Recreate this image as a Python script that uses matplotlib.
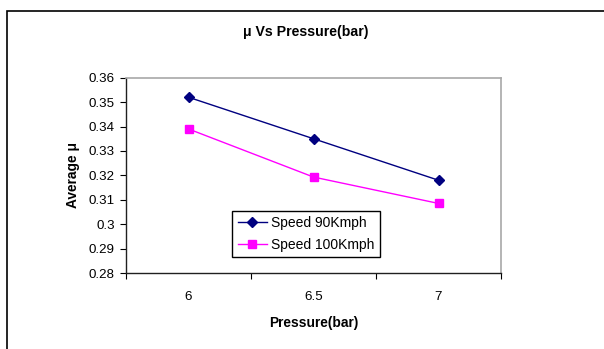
import numpy as np
import matplotlib.pyplot as plt
from matplotlib.patches import Rectangle
from matplotlib.ticker import FuncFormatter

plt.rcParams["font.family"] = ["Liberation Sans", "DejaVu Sans"]

# datos
pressure = ["6", "6.5", "7"]
speed_90 = [0.352, 0.335, 0.318]
speed_100 = [0.339, 0.3193, 0.3085]
y_ticks = [0.28, 0.29, 0.30, 0.31, 0.32, 0.33, 0.34, 0.35, 0.36]

fig = plt.figure(figsize=(6.04, 3.49), dpi=100)
# plot area in pixels: x 126-501, y 77.7-273
ax = fig.add_axes([126 / 604, 1 - 273 / 349, 375 / 604, 195.3 / 349])

x = np.arange(len(pressure))
ax.plot(x, speed_90, color="#000080", lw=1, marker="D", ms=5, label="Speed 90Kmph")
ax.plot(x, speed_100, color="#FF00FF", lw=1, marker="s", ms=5.5, label="Speed 100Kmph")

ax.set_xlim(-0.5, 2.5)
ax.set_ylim(0.28, 0.36)
ax.set_yticks(y_ticks)
ax.yaxis.set_major_formatter(FuncFormatter(lambda v, p: "%g" % round(v, 2)))
ax.tick_params(axis="y", labelsize=9.6, length=4, width=0.8, direction="out", pad=4)

# category axis: ticks between categories, labels at centres
ax.set_xticks([-0.5, 0.5, 1.5, 2.5])
ax.set_xticklabels([])
ax.tick_params(axis="x", which="major", length=4, width=0.8, direction="out")
ax.set_xticks(x, minor=True)
ax.set_xticklabels(pressure, minor=True)
ax.tick_params(axis="x", which="minor", length=0, labelsize=9.6, pad=13)

for s in ["top", "right"]:
    ax.spines[s].set_color("#a8a8a8")
    ax.spines[s].set_linewidth(1.2)
for s in ["left", "bottom"]:
    ax.spines[s].set_color("#202020")
    ax.spines[s].set_linewidth(1)

ax.set_xlabel("Pressure(bar)", fontsize=9.9, fontweight="bold", labelpad=9)
ax.set_ylabel("Average μ", fontsize=9.9, fontweight="bold", labelpad=6)
fig.text(306 / 604, 1 - 32 / 349, "μ Vs Pressure(bar)", ha="center", va="center",
         fontsize=10.2, fontweight="bold")

leg = ax.legend(loc="upper left", bbox_to_anchor=((232 - 126) / 375, (273 - 210.7) / 195.3),
                fontsize=10, frameon=True, fancybox=False, framealpha=1,
                edgecolor="black", borderpad=0.4, handlelength=2.1,
                labelspacing=0.55, handletextpad=0.3, borderaxespad=0)
leg.get_frame().set_linewidth(1)

# outer chart border
fig.patches.append(Rectangle((7 / 604, -0.1), 1.2, 1 - 11 / 349 + 0.1,
                             transform=fig.transFigure, fill=False,
                             edgecolor="black", lw=1.2, clip_on=False))

plt.savefig("out.png", dpi=100)
